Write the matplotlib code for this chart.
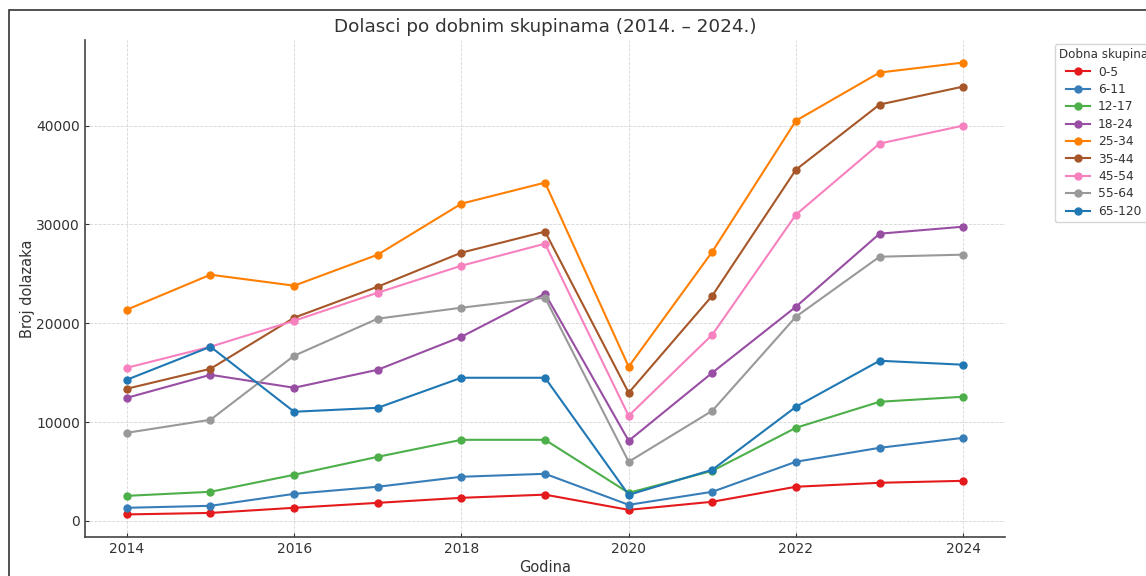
import matplotlib
matplotlib.use('Agg')
from matplotlib import pyplot as plt
from matplotlib.patches import Rectangle

# years and arrivals per age group
years = [2014, 2015, 2016, 2017, 2018, 2019, 2020, 2021, 2022, 2023, 2024]

groups = ['0-5', '6-11', '12-17', '18-24', '25-34', '35-44', '45-54', '55-64', '65-120']

g_0_5 = [650, 800, 1320, 1820, 2330, 2650, 1110, 1930, 3450, 3850, 4050]
g_6_11 = [1320, 1520, 2730, 3450, 4460, 4760, 1620, 2940, 5980, 7390, 8400]
g_12_17 = [2530, 2940, 4660, 6480, 8200, 8200, 2830, 5060, 9420, 12050, 12560]
g_18_24 = [12450, 14780, 13470, 15290, 18630, 22990, 8100, 14990, 21670, 29060, 29770]
g_25_34 = [21370, 24910, 23800, 26940, 32100, 34230, 15600, 27240, 40500, 45370, 46380]
g_35_44 = [13370, 15390, 20560, 23700, 27140, 29270, 12960, 22790, 35540, 42130, 43950]
g_45_54 = [15490, 17620, 20250, 23090, 25820, 28050, 10630, 18840, 30990, 38180, 40000]
g_55_64 = [8910, 10230, 16710, 20460, 21570, 22580, 5980, 11140, 20660, 26730, 26940]
g_65_120 = [14280, 17620, 11040, 11440, 14480, 14480, 2630, 5170, 11540, 16200, 15800]

series = [g_0_5, g_6_11, g_12_17, g_18_24, g_25_34, g_35_44, g_45_54, g_55_64, g_65_120]
colors = ['#e41a1c', '#377eb8', '#4daf4a', '#984ea3', '#ff7f00',
          '#a65628', '#f781bf', '#999999', '#1f77b4']

txt = '#333333'

fig = plt.figure(figsize=(11.46, 5.76), dpi=100)
ax = fig.add_axes([0.0742, 0.0677, 0.8028, 0.8629])

for name, vals, c in zip(groups, series, colors):
    ax.plot(years, vals, marker='o', markersize=5, linewidth=1.5, color=c, label=name)

ax.set_title('Dolasci po dobnim skupinama (2014. – 2024.)', fontsize=13.2, color=txt)
ax.set_xlabel('Godina', fontsize=10.5, color=txt, labelpad=3)
ax.set_ylabel('Broj dolazaka', fontsize=10.5, color=txt, labelpad=1)

ax.set_xticks([2014, 2016, 2018, 2020, 2022, 2024])
ax.set_yticks([0, 10000, 20000, 30000, 40000])
ax.tick_params(direction='in', length=3, labelsize=10, colors=txt)
ax.grid(True, linestyle='--', linewidth=0.6, color='#cccccc', alpha=0.8)

for s in ['top', 'right']:
    ax.spines[s].set_visible(False)
for s in ['left', 'bottom']:
    ax.spines[s].set_color('#444444')
    ax.spines[s].set_linewidth(1.2)

leg = ax.legend(title='Dobna skupina', loc='upper left',
                bbox_to_anchor=(1055 / 1146, 1 - 44 / 576),
                bbox_transform=fig.transFigure, fontsize=8.8, title_fontsize=8.6,
                labelspacing=0.36, handlelength=1.9, handletextpad=0.7,
                borderpad=0.35, frameon=True, borderaxespad=0)
leg.get_frame().set_edgecolor('#cccccc')
for t in leg.get_texts():
    t.set_color(txt)
leg.get_title().set_color(txt)

# frame around the figure (cropped at right and bottom)
fig.patches.append(Rectangle((9 / 1146, -0.1), 1.2, 1.1 - 10 / 576,
                             transform=fig.transFigure, fill=False,
                             edgecolor='#333333', linewidth=1.2, clip_on=False))

fig.savefig('out.png', dpi=100)
plt.close()
